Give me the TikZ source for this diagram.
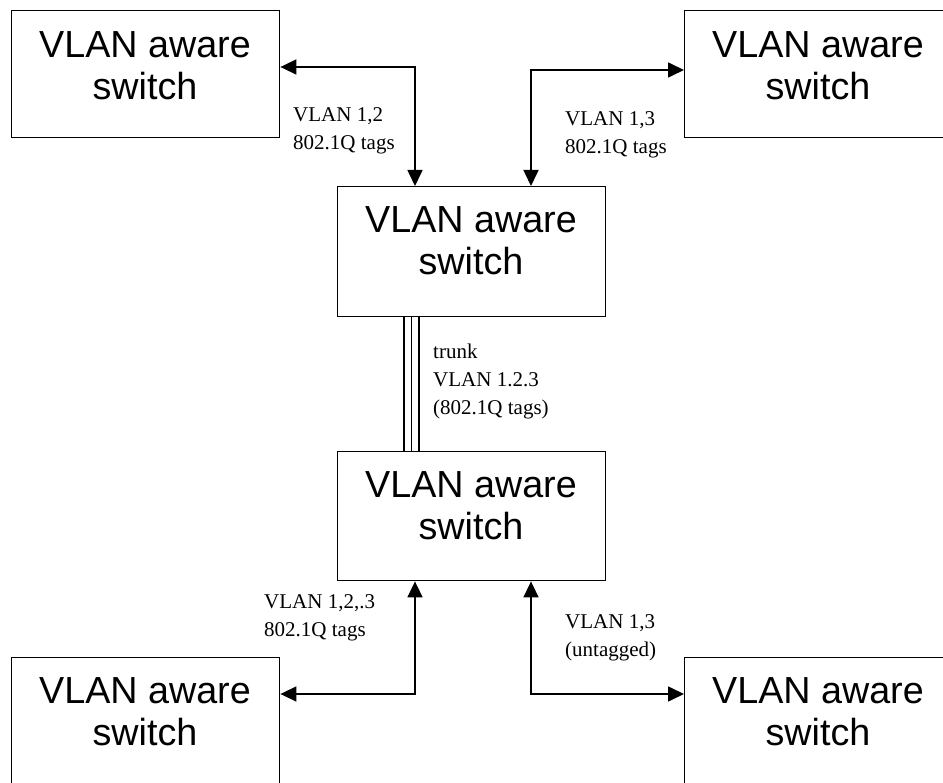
\documentclass[tikz,border=0pt]{standalone}
\usepackage{fontspec}
\setmainfont{Liberation Serif}
\newfontfamily\boxfont{Liberation Sans}
\usetikzlibrary{arrows.meta}
\begin{document}
\begin{tikzpicture}[x=1pt,y=-1pt,
  swbox/.style={draw,line width=1.4pt,minimum width=268pt,minimum height=127pt,inner sep=0pt,anchor=north west},
  swtext/.style={font=\boxfont\fontsize{37.7}{42}\selectfont,align=center,anchor=north,inner sep=0pt},
  lbl/.style={font=\fontsize{21}{28}\selectfont,align=left,anchor=north west,inner sep=0pt},
  conn/.style={line width=1.6pt,{Triangle[length=16pt,width=15pt]}-{Triangle[length=16pt,width=15pt]}},
  trunkline/.style={line width=1.4pt}]
\useasboundingbox (0,0) rectangle (943,783);
\clip (0,0) rectangle (943,783);
% boxes
\node[swbox] (tl) at (11,10) {};
\node[swbox] (tr) at (684,10) {};
\node[swbox,minimum height=130pt] (mid) at (337,186) {};
\node[swbox,minimum height=129pt] (low) at (337,451) {};
\node[swbox] (bl) at (11,657) {};
\node[swbox] (br) at (684,657) {};
% box texts
\node[swtext] (tltx) at (145,31) {VLAN aware\\switch};
\node[swtext] (trtx) at (818,31) {VLAN aware\\switch};
\node[swtext] (midtx) at (471,206) {VLAN aware\\switch};
\node[swtext] (lowtx) at (471,471) {VLAN aware\\switch};
\node[swtext] (bltx) at (145,677) {VLAN aware\\switch};
\node[swtext] (brtx) at (818,677) {VLAN aware\\switch};
% connectors
\coordinate (c1) at (415,67);
\coordinate (c2) at (531,70);
\coordinate (c3) at (415,694);
\coordinate (c4) at (531,694);
\draw[conn] (tl.east |- c1) -- (c1) -- (c1 |- mid.north);
\draw[conn] (tr.west |- c2) -- (c2) -- (c2 |- mid.north);
\draw[conn] (bl.east |- c3) -- (c3) -- (c3 |- low.south);
\draw[conn] (br.west |- c4) -- (c4) -- (c4 |- low.south);
% trunk
\coordinate (t1) at (404,0);
\coordinate (t2) at (411.5,0);
\coordinate (t3) at (419,0);
\draw[trunkline] (t1 |- mid.south) -- (t1 |- low.north);
\draw[trunkline] (t2 |- mid.south) -- (t2 |- low.north);
\draw[trunkline] (t3 |- mid.south) -- (t3 |- low.north);
% labels
\node[lbl] (l1) at (293,107) {VLAN 1,2\\802.1Q tags};
\node[lbl] (l2) at (565,111) {VLAN 1,3\\802.1Q tags};
\node[lbl] (l3) at (433,344) {trunk\\VLAN 1.2.3\\(802.1Q tags)};
\node[lbl] (l4) at (264,594) {VLAN 1,2,.3\\802.1Q tags};
\node[lbl] (l5) at (565,614) {VLAN 1,3\\(untagged)};
\end{tikzpicture}
\end{document}
